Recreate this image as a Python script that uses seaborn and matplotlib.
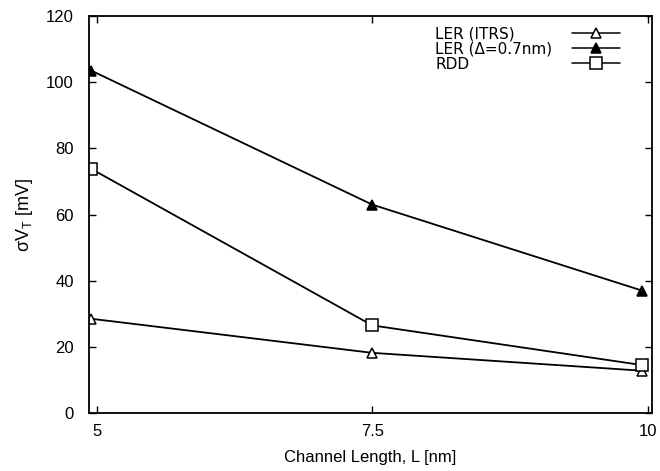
import matplotlib
matplotlib.use("Agg")
import matplotlib.pyplot as plt
from matplotlib.lines import Line2D
import seaborn as sns
import pandas as pd

# Channel lengths and threshold-voltage spread for each variability source
lengths = [4.95, 7.5, 9.95]
ler_itrs = [28.5, 18.2, 12.8]
ler_07 = [103.5, 63.0, 37.0]
rdd = [73.8, 26.5, 14.5]

series_names = ["LER (ITRS)", "LER (\u0394=0.7nm)", "RDD"]
x_ticks = [5, 7.5, 10]
x_tick_labels = ["5", "7.5", "10"]
y_ticks = [0, 20, 40, 60, 80, 100, 120]

sns.set_theme(style="ticks")
plt.rcParams["font.family"] = ["Liberation Sans", "DejaVu Sans"]
plt.rcParams["text.color"] = "black"
plt.rcParams["axes.labelcolor"] = "black"

df = pd.DataFrame({
    "L": lengths * 3,
    "sigma": ler_itrs + ler_07 + rdd,
    "source": [series_names[0]] * 3 + [series_names[1]] * 3 + [series_names[2]] * 3,
})

fig, ax = plt.subplots(figsize=(6.6, 4.71), dpi=100)
fig.subplots_adjust(left=0.135, right=0.988, top=0.966, bottom=0.123)

styles = {
    series_names[0]: dict(marker="^", mfc="white", ms=7),
    series_names[1]: dict(marker="^", mfc="black", ms=7),
    series_names[2]: dict(marker="s", mfc="white", ms=8.5),
}
for name in series_names:
    sub = df[df["source"] == name]
    sns.lineplot(data=sub, x="L", y="sigma", ax=ax, color="black", lw=1.3,
                 label=name, mec="black", mew=1.1, legend=False, **styles[name])

ax.set_xlim(4.93, 10.04)
ax.set_ylim(0, 120)
ax.set_xticks(x_ticks)
ax.set_xticklabels(x_tick_labels)
ax.set_yticks(y_ticks)
ax.tick_params(direction="in", top=True, right=True, length=5, width=1,
               labelsize=12, colors="black")
ax.tick_params(axis="y", pad=11)
ax.tick_params(axis="x", pad=8)
for s in ax.spines.values():
    s.set_linewidth(1.3)
    s.set_color("black")

ax.set_xlabel("Channel Length, L [nm]", fontsize=12, labelpad=8)
ax.set_ylabel("\u03c3V$_\\mathregular{T}$ [mV]", fontsize=13, labelpad=8)

# Key: line samples on the right, left-aligned labels on the left
key_font = {"family": ["DejaVu Sans"], "size": 11}
key_spacing = 0.0
handles = [Line2D([], [], color="black", lw=1.1, mec="black", mew=1.1,
                  **styles[n]) for n in series_names]
key_lines = ax.legend(handles, [" "] * 3, loc="upper left",
                      bbox_to_anchor=(0.851, 0.966), bbox_transform=fig.transFigure,
                      frameon=False, prop=key_font, handlelength=3.1,
                      handletextpad=0.0, labelspacing=key_spacing, borderpad=0.2)
ax.add_artist(key_lines)
blank = [Line2D([], [], lw=0) for _ in series_names]
key_text = ax.legend(blank, series_names, loc="upper left",
                     bbox_to_anchor=(0.643, 0.966), bbox_transform=fig.transFigure,
                     frameon=False, prop=key_font, handlelength=0, handletextpad=0,
                     labelspacing=key_spacing, borderpad=0.2, labelcolor="black")

fig.savefig("out.png", dpi=100)
